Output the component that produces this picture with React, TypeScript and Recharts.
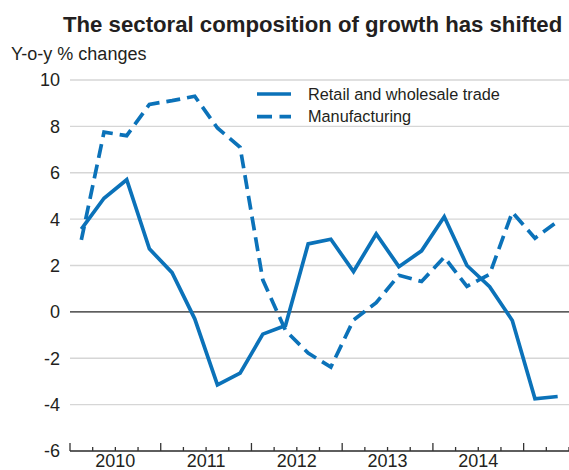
import { LineChart, Line, XAxis, YAxis, CartesianGrid, ReferenceLine, Legend } from 'recharts';

// only full years get a label; 2015 is cut off at the right edge
const yearLabels = ['2010', '2011', '2012', '2013', '2014'];
const quarters = [
  '2010Q1', '2010Q2', '2010Q3', '2010Q4',
  '2011Q1', '2011Q2', '2011Q3', '2011Q4',
  '2012Q1', '2012Q2', '2012Q3', '2012Q4',
  '2013Q1', '2013Q2', '2013Q3', '2013Q4',
  '2014Q1', '2014Q2', '2014Q3', '2014Q4',
  '2015Q1', '2015Q2',
];
const retail = [
  3.57, 4.9, 5.7, 2.72, 1.69, -0.3, -3.15, -2.64, -0.96, -0.59, 2.93,
  3.13, 1.74, 3.36, 1.95, 2.63, 4.1, 2.0, 1.09, -0.37, -3.75, -3.65,
];
const manufacturing = [
  3.1, 7.75, 7.6, 8.95, 9.11, 9.3, 7.93, 7.1, 1.38, -0.8, -1.78,
  -2.38, -0.35, 0.4, 1.58, 1.31, 2.36, 1.1, 1.62, 4.3, 3.18, 3.9,
];
const yTicks = [-6, -4, -2, 0, 2, 4, 6, 8, 10];

const BLUE = '#0b72b9';
const TEXT = '#231f20';
const DASH = '14 7';

// quarter i sits in the middle of its band
const chartData = quarters.map((q, i) => ({
  x: i + 0.5,
  quarter: q,
  retail: retail[i],
  manufacturing: manufacturing[i],
}));
const xTicks = Array.from({ length: quarters.length + 1 }, (_, i) => i);

function QuarterTick(props: any) {
  const { x, y, payload } = props;
  const v = payload.value as number;
  const major = v % 4 === 0;
  const label = v % 4 === 2 ? yearLabels[(v - 2) / 4] : null;
  return (
    <g>
      <line x1={x} y1={y} x2={x} y2={y - (major ? 8 : 4)} stroke="#333" strokeWidth={1.3} />
      {label && (
        <text x={x} y={y + 16} textAnchor="middle" fontSize={18} fill={TEXT}>
          {label}
        </text>
      )}
    </g>
  );
}

function LegendBox() {
  return (
    <svg width={260} height={44}>
      <line x1={7} y1={10} x2={41} y2={10} stroke={BLUE} strokeWidth={3.7} />
      <text x={58} y={15.5} fontSize={16.3} fill={TEXT}>Retail and wholesale trade</text>
      <line x1={7} y1={32.7} x2={41} y2={32.7} stroke={BLUE} strokeWidth={3.7} strokeDasharray="15 7.5" />
      <text x={58} y={38} fontSize={16.3} fill={TEXT}>Manufacturing</text>
    </svg>
  );
}

export default function App() {
  return (
    <div
      style={{
        position: 'absolute',
        left: 0,
        top: 0,
        width: 569,
        height: 470,
        background: '#fff',
        fontFamily: '"Liberation Sans", Arial, sans-serif',
      }}
    >
      <LineChart width={569} height={470} data={chartData} margin={{ top: 80, right: 0, bottom: 0, left: 0 }}>
        <CartesianGrid vertical={false} stroke="#d6d6d6" strokeWidth={1.3} />
        <XAxis
          dataKey="x"
          type="number"
          domain={[0, quarters.length]}
          ticks={xTicks}
          interval={0}
          tickSize={0}
          tickMargin={0}
          tickLine={false}
          axisLine={{ stroke: '#333', strokeWidth: 1.3 }}
          height={19}
          tick={<QuarterTick />}
        />
        <YAxis
          type="number"
          domain={[-6, 10]}
          ticks={yTicks}
          width={70}
          tickSize={0}
          tickMargin={10}
          axisLine={false}
          tickLine={false}
          tick={{ fontSize: 18, fill: TEXT }}
        />
        <ReferenceLine y={0} stroke="#333" strokeWidth={1.3} />
        <Legend
          layout="vertical"
          verticalAlign="middle"
          align="center"
          content={<LegendBox />}
          wrapperStyle={{ top: 84, left: 250, width: 260, height: 44 }}
        />
        <Line
          type="linear"
          dataKey="manufacturing"
          name="Manufacturing"
          stroke={BLUE}
          strokeWidth={3.7}
          strokeDasharray={DASH}
          dot={false}
          isAnimationActive={false}
        />
        <Line
          type="linear"
          dataKey="retail"
          name="Retail and wholesale trade"
          stroke={BLUE}
          strokeWidth={3.7}
          dot={false}
          isAnimationActive={false}
        />
      </LineChart>
      <svg
        width={569}
        height={70}
        style={{ position: 'absolute', left: 0, top: 0, pointerEvents: 'none' }}
      >
        <text x={63} y={32.3} fontSize={22.2} fontWeight="bold" fill={TEXT}>
          The sectoral composition of growth has shifted
        </text>
        <text x={11} y={60} fontSize={18} fill={TEXT}>
          Y-o-y % changes
        </text>
      </svg>
    </div>
  );
}
